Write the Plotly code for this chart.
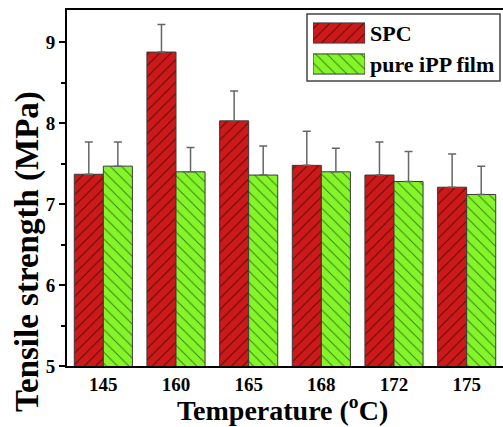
import plotly.graph_objects as go

categories = ["145", "160", "165", "168", "172", "175"]
spc_values = [7.37, 8.88, 8.03, 7.48, 7.36, 7.21]
spc_errors = [0.40, 0.34, 0.37, 0.42, 0.41, 0.41]
ipp_values = [7.47, 7.40, 7.36, 7.40, 7.28, 7.12]
ipp_errors = [0.30, 0.30, 0.36, 0.29, 0.37, 0.35]
y_ticks = [5, 6, 7, 8, 9]
series_names = ["SPC", "pure iPP film"]

FONT = "Liberation Serif"
L, R, T, B = 67, 0, 10, 61
W, H = 503, 427
pw, ph = W - L - R, H - T - B


def px_x(px):
    return (px - L) / pw


def px_y(py):
    return (H - B - py) / ph


red_marker = dict(color="#cc1a1a", line=dict(color="#3a3a3a", width=1),
                  pattern=dict(shape="/", fgcolor="#300000", fgopacity=0.7, size=8, solidity=0.12))
green_marker = dict(color="#84f52a", line=dict(color="#3a3a3a", width=1),
                    pattern=dict(shape="\\", fgcolor="#1d4a00", fgopacity=0.7, size=8, solidity=0.12))

fig = go.Figure()
fig.add_trace(go.Bar(
    x=categories, y=spc_values, name=series_names[0], marker=red_marker, showlegend=False,
    error_y=dict(type="data", array=spc_errors, arrayminus=[0] * len(spc_errors), symmetric=False,
                 color="#666666", thickness=1.5, width=4),
))
fig.add_trace(go.Bar(
    x=categories, y=ipp_values, name=series_names[1], marker=green_marker, showlegend=False,
    error_y=dict(type="data", array=ipp_errors, arrayminus=[0] * len(ipp_errors), symmetric=False,
                 color="#666666", thickness=1.5, width=4),
))

# legend key swatches drawn as bars on a small inset axis
fig.add_trace(go.Bar(x=[1], y=[series_names[0]], orientation="h", marker=red_marker, width=0.65,
                     xaxis="x2", yaxis="y2", showlegend=False, hoverinfo="skip"))
fig.add_trace(go.Bar(x=[1], y=[series_names[1]], orientation="h", marker=green_marker, width=0.65,
                     xaxis="x2", yaxis="y2", showlegend=False, hoverinfo="skip"))

fig.update_layout(
    width=W, height=H,
    margin=dict(l=L, r=R, t=T, b=B, pad=0),
    paper_bgcolor="white", plot_bgcolor="white",
    barmode="group", bargap=0.2, bargroupgap=0,
    font=dict(family=FONT, color="black"),
    showlegend=False,
    xaxis=dict(range=[-0.5, 5.5], showline=True, linecolor="black", linewidth=2, mirror=True,
               ticks="", showgrid=False, zeroline=False,
               tickfont=dict(family=FONT, size=19, weight="bold")),
    yaxis=dict(range=[5, 9.4], tickvals=y_ticks, showline=True, linecolor="black", linewidth=2,
               ticks="outside", ticklen=6, tickwidth=1.5, tickcolor="black",
               minor=dict(dtick=0.5, ticks="outside", ticklen=4, tickwidth=1.5, tickcolor="black"),
               showgrid=False, zeroline=False,
               tickfont=dict(family=FONT, size=19, weight="bold")),
    xaxis2=dict(domain=[px_x(313), px_x(365)], range=[0, 1], anchor="y2", visible=False),
    yaxis2=dict(domain=[px_y(79.5), px_y(17.5)], range=[-0.5, 1.5], anchor="x2", visible=False,
                type="category", categoryorder="array", categoryarray=[series_names[1], series_names[0]]),
)

# legend frame
fig.add_shape(type="rect", xref="paper", yref="paper",
              x0=px_x(307), x1=px_x(500), y0=px_y(81), y1=px_y(14),
              line=dict(color="#444444", width=1.5), fillcolor="white", layer="below")
fig.add_annotation(text=series_names[0], showarrow=False, xref="paper", yref="paper",
                   x=px_x(368), y=px_y(33), xanchor="left", yanchor="middle",
                   font=dict(family=FONT, size=22, weight="bold"))
fig.add_annotation(text=series_names[1], showarrow=False, xref="paper", yref="paper",
                   x=px_x(368), y=px_y(64), xanchor="left", yanchor="middle",
                   font=dict(family=FONT, size=22, weight="bold"))

fig.add_annotation(text="Tensile strength (MPa)", textangle=-90, showarrow=False,
                   xref="paper", yref="paper", x=px_x(27), y=px_y(252),
                   xanchor="center", yanchor="middle",
                   font=dict(family=FONT, size=33, weight="bold"))
fig.add_annotation(text="Temperature (<sup>o</sup>C)", showarrow=False,
                   xref="paper", yref="paper", x=px_x(282), y=px_y(408),
                   xanchor="center", yanchor="middle",
                   font=dict(family=FONT, size=28, weight="bold"))

fig.write_html("out.html")
